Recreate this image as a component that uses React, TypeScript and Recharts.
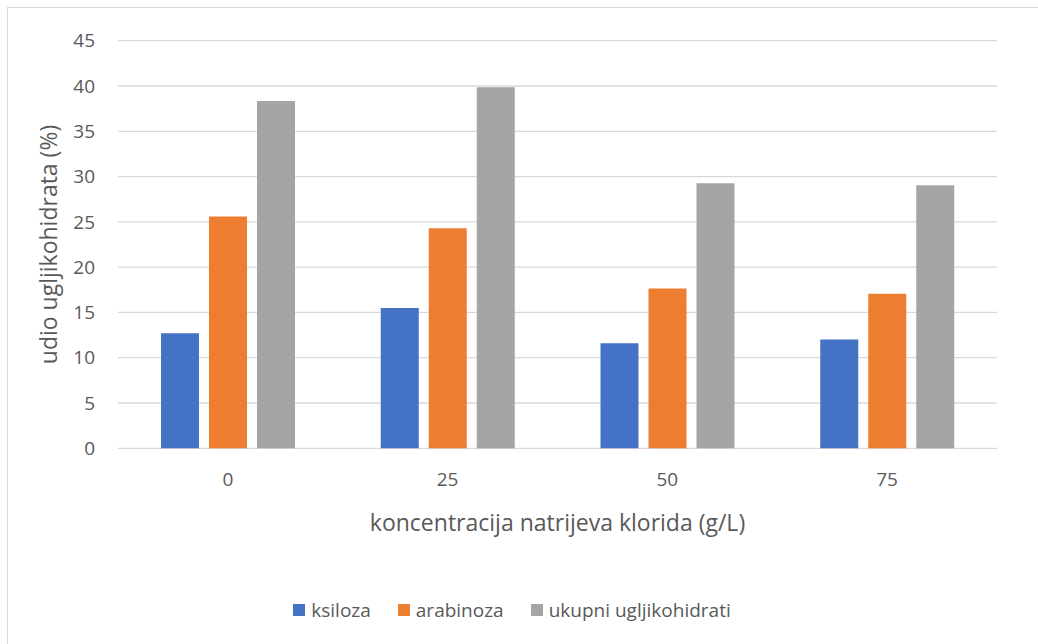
import { Bar, BarChart, CartesianGrid, Legend, XAxis, YAxis } from "recharts";

const categories = ["0", "25", "50", "75"];
const ksiloza = [12.7, 15.5, 11.6, 12.0];
const arabinoza = [25.6, 24.3, 17.65, 17.05];
const ukupni = [38.35, 39.85, 29.25, 29.05];
const yTicks = [0, 5, 10, 15, 20, 25, 30, 35, 40, 45];

const series = [
  { key: "ksiloza", name: "ksiloza", color: "#4472C4" },
  { key: "arabinoza", name: "arabinoza", color: "#ED7D31" },
  { key: "ukupni", name: "ukupni ugljikohidrati", color: "#A5A5A5" },
];

const data = categories.map((c, i) => ({
  name: c,
  ksiloza: ksiloza[i],
  arabinoza: arabinoza[i],
  ukupni: ukupni[i],
}));

const FONT = "'Open Sans', sans-serif";
const TEXT = "#595959";

const TOP = 40.7;
const BOTTOM_AXIS = 448.3;

// y axis title, centred on the plot height
const YLabel = () => {
  const cy = (TOP + BOTTOM_AXIS) / 2;
  const x = 57;
  return (
    <text
      x={x}
      y={cy}
      transform={`rotate(-90, ${x}, ${cy})`}
      textAnchor="middle"
      fill={TEXT}
      fontSize={23}
      fontFamily={FONT}
    >
      udio ugljikohidrata (%)
    </text>
  );
};

const CustomLegend = () => (
  <div
    style={{
      display: "flex",
      justifyContent: "center",
      alignItems: "center",
      fontFamily: FONT,
      fontSize: 19,
      color: TEXT,
    }}
  >
    {series.map((s, i) => (
      <div
        key={s.key}
        style={{
          display: "flex",
          alignItems: "center",
          marginLeft: i === 0 ? 0 : 27,
        }}
      >
        <span
          style={{
            width: 12,
            height: 12,
            background: s.color,
            display: "inline-block",
            marginRight: 6,
          }}
        />
        <span>{s.name}</span>
      </div>
    ))}
  </div>
);

export default function App() {
  return (
    <div
      style={{
        position: "absolute",
        left: 0,
        top: 0,
        width: 1038,
        height: 644,
        background: "#fff",
      }}
    >
      <div
        style={{
          position: "absolute",
          left: 7,
          top: 7,
          width: 1031,
          height: 637,
          borderTop: "1px solid #d9d9d9",
          borderLeft: "1px solid #d9d9d9",
        }}
      />
      <BarChart
        width={1038}
        height={644}
        data={data}
        margin={{ top: TOP, right: 41, bottom: 644 - BOTTOM_AXIS - 90, left: 0 }}
        barSize={38}
        barGap={10}
      >
        <CartesianGrid vertical={false} stroke="#d9d9d9" strokeWidth={1.3} />
        <XAxis
          dataKey="name"
          axisLine={false}
          tickLine={false}
          tickMargin={18}
          height={90}
          tick={{ fill: TEXT, fontSize: 19, fontFamily: FONT }}
          label={{
            value: "koncentracija natrijeva klorida (g/L)",
            position: "insideBottom",
            offset: 7,
            fill: TEXT,
            fontSize: 23,
            fontFamily: FONT,
          }}
        />
        <YAxis
          width={118}
          domain={[0, 45]}
          ticks={yTicks}
          interval={0}
          axisLine={false}
          tickLine={false}
          tickMargin={17}
          tick={{ fill: TEXT, fontSize: 19, fontFamily: FONT }}
          label={<YLabel />}
        />
        <Legend
          verticalAlign="middle"
          align="center"
          layout="horizontal"
          wrapperStyle={{ top: 597, left: 0, width: 1024 }}
          content={<CustomLegend />}
        />
        {series.map((s) => (
          <Bar
            key={s.key}
            dataKey={s.key}
            name={s.name}
            fill={s.color}
            isAnimationActive={false}
          />
        ))}
      </BarChart>
    </div>
  );
}
